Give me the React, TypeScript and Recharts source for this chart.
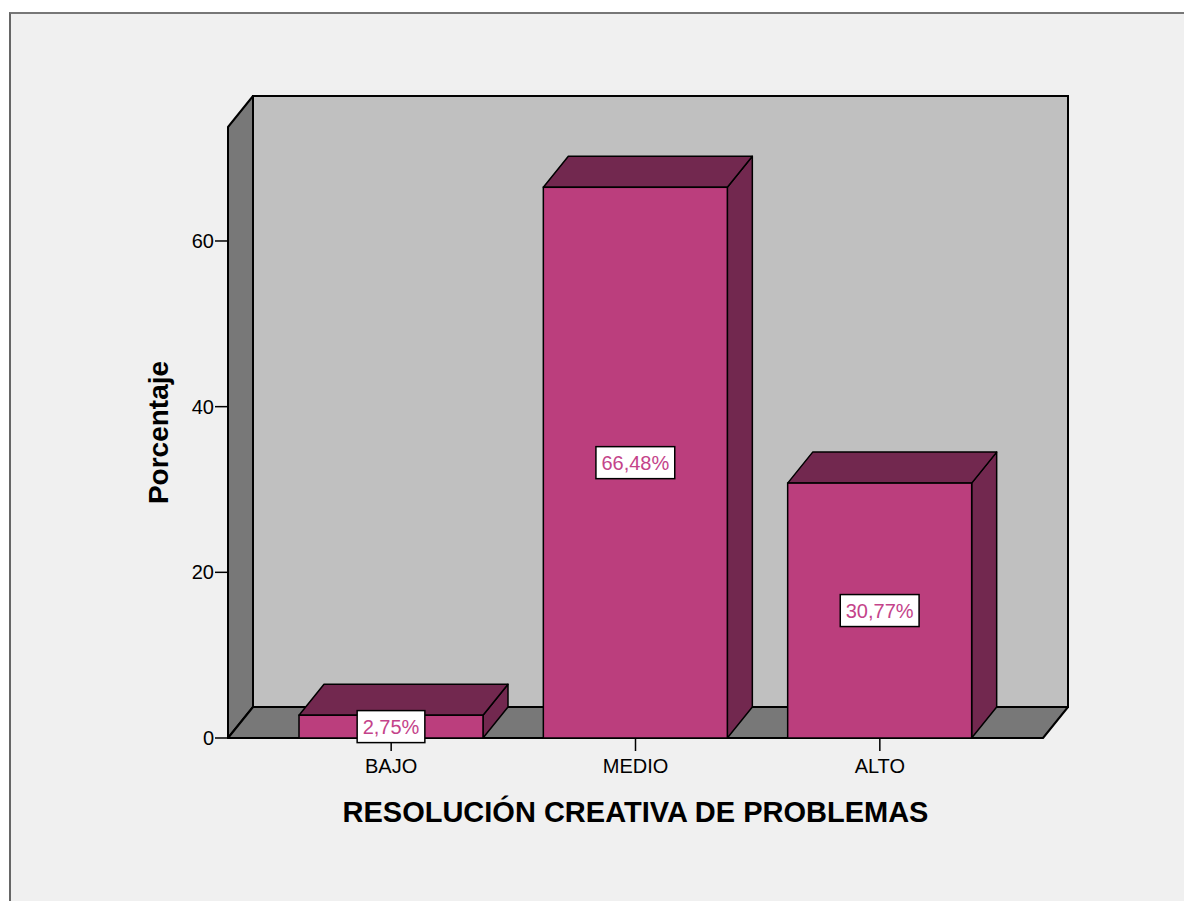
import React from 'react';
import { BarChart, Bar, XAxis, YAxis, ReferenceArea, LabelList, Label } from 'recharts';

// ---- data ----
const categories: string[] = ['BAJO', 'MEDIO', 'ALTO'];
const percentages: number[] = [2.75, 66.48, 30.77];
const valueLabels: string[] = ['2,75%', '66,48%', '30,77%'];
const yTicks: number[] = [0, 20, 40, 60];
const yMax = 73.76;
const xTitle = 'RESOLUCIÓN CREATIVA DE PROBLEMAS';
const yTitle = 'Porcentaje';

const data = categories.map((c, i) => ({ name: c, value: percentages[i], label: valueLabels[i] }));

// ---- style ----
const FONT = '"Liberation Sans", Arial, Helvetica, sans-serif';
const DX = 25;
const DY = 31;
const PAD = 41;
const FRONT = '#bb3e7d';
const DARK = '#72284f';
const WALL_BACK = '#c0c0c0';
const WALL_SIDE = '#787878';
const LABEL_PINK = '#c4438a';

const pts = (a: number[][]) => a.map((p) => p.join(',')).join(' ');

const Walls = (props: any) => {
  const x = props.x - PAD;
  const w = props.width + 2 * PAD;
  const { y, height: h } = props;
  return (
    <g>
      <rect x={x + DX} y={y - DY} width={w} height={h} fill={WALL_BACK} stroke="#000" strokeWidth={2} />
      <polygon
        points={pts([[x, y], [x + DX, y - DY], [x + DX, y + h - DY], [x, y + h]])}
        fill={WALL_SIDE}
        stroke="#000"
        strokeWidth={2}
        strokeLinejoin="round"
      />
      <polygon
        points={pts([[x, y + h], [x + DX, y + h - DY], [x + w + DX, y + h - DY], [x + w, y + h]])}
        fill={WALL_SIDE}
        stroke="#000"
        strokeWidth={2}
        strokeLinejoin="round"
      />
    </g>
  );
};

const Bar3D = (props: any) => {
  const { x, y, width: w, height: h } = props;
  if (w == null || h == null) return null;
  return (
    <g>
      <polygon
        points={pts([[x + w, y], [x + w + DX, y - DY], [x + w + DX, y + h - DY], [x + w, y + h]])}
        fill={DARK}
        stroke="#000"
        strokeWidth={1.5}
        strokeLinejoin="round"
      />
      <polygon
        points={pts([[x, y], [x + DX, y - DY], [x + w + DX, y - DY], [x + w, y]])}
        fill={DARK}
        stroke="#000"
        strokeWidth={1.5}
        strokeLinejoin="round"
      />
      <rect x={x} y={y} width={w} height={h} fill={FRONT} stroke="#000" strokeWidth={1.5} />
    </g>
  );
};

const charW = (s: string) =>
  s.split('').reduce((acc, ch) => acc + (ch === ',' ? 0.278 : ch === '%' ? 0.889 : 0.556), 0);

const ValueBox = (props: any) => {
  const { x, y, width, height, value } = props;
  const fs = 20;
  const tw = charW(String(value)) * fs;
  const bw = tw + 11;
  const bh = 32;
  const cx = x + width / 2;
  const cy = y + height / 2;
  return (
    <g>
      <rect x={cx - bw / 2} y={cy - bh / 2} width={bw} height={bh} fill="#fff" stroke="#000" strokeWidth={1.5} />
      <text
        x={cx}
        y={cy}
        textAnchor="middle"
        dominantBaseline="central"
        fontFamily={FONT}
        fontSize={fs}
        fill={LABEL_PINK}
      >
        {value}
      </text>
    </g>
  );
};

const YTitle = (props: any) => {
  const vb = props.viewBox || {};
  const tx = vb.x + 30;
  const ty = vb.y + vb.height / 2;
  return (
    <text
      x={tx}
      y={ty}
      transform={`rotate(-90, ${tx}, ${ty})`}
      textAnchor="middle"
      fontFamily={FONT}
      fontWeight="bold"
      fontSize={28}
      fill="#000"
    >
      {yTitle}
    </text>
  );
};

const XTitle = (props: any) => {
  const vb = props.viewBox || {};
  return (
    <text
      x={vb.x + vb.width / 2}
      y={vb.y + 84}
      textAnchor="middle"
      fontFamily={FONT}
      fontWeight="bold"
      fontSize={29}
      fill="#000"
    >
      {xTitle}
    </text>
  );
};

export default function App() {
  return (
    <div style={{ position: 'absolute', left: 0, top: 0, width: 1184, height: 901, background: '#fff', overflow: 'hidden' }}>
      <div
        style={{
          position: 'absolute',
          left: 9,
          top: 12,
          width: 1184,
          height: 901,
          background: '#f0f0f0',
          borderTop: '2px solid #777',
          borderLeft: '2px solid #666',
        }}
      />
      <div style={{ position: 'absolute', left: 0, top: 0 }}>
        <BarChart
          width={1184}
          height={901}
          data={data}
          margin={{ top: 127, right: 141, bottom: 63, left: 138 }}
        >
          <XAxis
            dataKey="name"
            type="category"
            padding={{ left: PAD, right: PAD }}
            axisLine={false}
            tickLine={{ stroke: '#000', strokeWidth: 1.5 }}
            tickSize={13}
            tickMargin={8}
            height={100}
            tick={{ fill: '#000', fontFamily: FONT, fontSize: 20 }}
            interval={0}
          >
            <Label content={XTitle} />
          </XAxis>
          <YAxis
            type="number"
            domain={[0, yMax]}
            ticks={yTicks}
            axisLine={false}
            tickLine={{ stroke: '#000', strokeWidth: 1.5 }}
            tickSize={13}
            tickMargin={1}
            width={90}
            tick={{ fill: '#000', fontFamily: FONT, fontSize: 20 }}
            allowDataOverflow
          >
            <Label content={YTitle} />
          </YAxis>
          <ReferenceArea y1={0} y2={yMax} shape={Walls} ifOverflow="visible" />
          <Bar dataKey="value" barSize={184} shape={Bar3D} isAnimationActive={false}>
            <LabelList dataKey="label" content={ValueBox} />
          </Bar>
        </BarChart>
      </div>
    </div>
  );
}
